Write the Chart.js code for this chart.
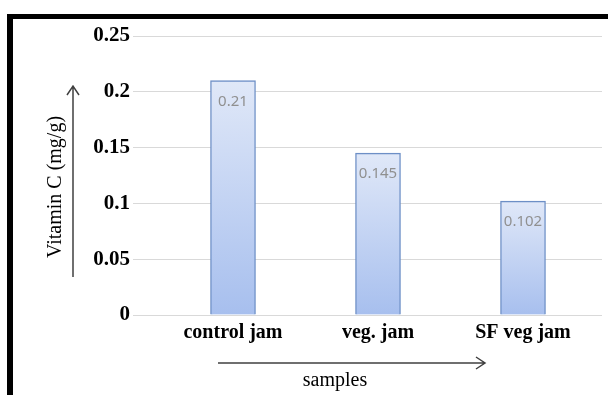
<!DOCTYPE html>
<html>
<head>
<meta charset="utf-8">
<script src="https://cdn.jsdelivr.net/npm/chart.js@4/dist/chart.umd.min.js"></script>
<style>
  html, body { margin: 0; padding: 0; background: #fff; }
  #wrap { width: 608px; height: 395px; }
</style>
</head>
<body>
<div id="wrap"><canvas id="myChart" width="608" height="395"></canvas></div>
<script>
// dati del grafico
const categories = ['control jam', 'veg. jam', 'SF veg jam'];
const positions = [0, 1, 2];
const vitaminC = [0.21, 0.145, 0.102];
const valueLabels = ['0.21', '0.145', '0.102'];
const yTitle = 'Vitamin C (mg/g)';
const xTitle = 'samples';

const ctx = document.getElementById('myChart').getContext('2d');

// gradiente per ogni barra, dall'alto verso il basso
function barGradient(context) {
    const chart = context.chart;
    const y = chart.scales.y;
    if (!chart.chartArea || !y || context.dataIndex === undefined) return '#c3d3f3';
    const v = context.dataset.data[context.dataIndex].y;
    const top = y.getPixelForValue(v);
    const bottom = y.getPixelForValue(0);
    const g = chart.ctx.createLinearGradient(0, top, 0, bottom);
    g.addColorStop(0, '#e0e8f8');
    g.addColorStop(1, '#a7bfee');
    return g;
}

// cornice, titoli degli assi, frecce ed etichette dei valori
const decorations = {
    id: 'decorations',
    afterDraw(chart) {
        const c = chart.ctx;
        c.save();
        // cornice nera
        c.fillStyle = '#000';
        c.fillRect(7, 14, 601, 5);
        c.fillRect(7, 14, 6, 381);

        // etichette dentro le barre
        const meta = chart.getDatasetMeta(0);
        c.font = '15px "Noto Sans", sans-serif';
        c.fillStyle = '#909090';
        c.textAlign = 'center';
        c.textBaseline = 'middle';
        meta.data.forEach((bar, i) => {
            c.fillText(valueLabels[i], bar.x, bar.y + 21);
        });

        // titolo asse y
        c.fillStyle = '#000';
        c.font = '20px "Liberation Serif", serif';
        c.save();
        c.translate(56, 187);
        c.rotate(-Math.PI / 2);
        c.fillText(yTitle, 0, 0);
        c.restore();

        // titolo asse x
        c.fillText(xTitle, 335, 381);

        // frecce
        c.strokeStyle = '#404040';
        c.lineWidth = 1.5;
        c.beginPath();
        c.moveTo(73, 277); c.lineTo(73, 86);
        c.moveTo(67, 95); c.lineTo(73, 86); c.lineTo(79, 95);
        c.moveTo(218, 363); c.lineTo(485, 363);
        c.moveTo(476, 357); c.lineTo(485, 363); c.lineTo(476, 369);
        c.stroke();
        c.restore();
    }
};

const myChart = new Chart(ctx, {
    type: 'bar',
    data: {
        datasets: [{
            data: positions.map((p, i) => ({ x: p, y: vitaminC[i] })),
            backgroundColor: barGradient,
            borderColor: '#6d8fc6',
            borderWidth: 1.4,
            barThickness: 45
        }]
    },
    options: {
        responsive: false,
        animation: false,
        layout: { padding: { left: 0, right: 6, top: 36, bottom: 0 } },
        plugins: {
            legend: { display: false },
            tooltip: { enabled: false }
        },
        scales: {
            x: {
                type: 'linear',
                offset: false,
                bounds: 'data',
                min: -100 / 145,
                max: 2 + 79 / 145,
                afterFit: function(scale) { scale.height = 80; },
                afterBuildTicks: function(scale) {
                    scale.ticks = positions.map(v => ({ value: v }));
                },
                ticks: {
                    autoSkip: false,
                    maxRotation: 0,
                    padding: -2,
                    color: '#000',
                    font: { family: '"Liberation Serif", serif', size: 20, weight: 'bold' },
                    callback: function(value) { return categories[value]; }
                },
                grid: { display: false, offset: false },
                border: { display: false }
            },
            y: {
                min: 0,
                max: 0.25,
                afterFit: function(scale) { scale.width = 133; },
                ticks: {
                    stepSize: 0.05,
                    padding: 3,
                    color: '#000',
                    font: { family: '"Liberation Serif", serif', size: 21, weight: 'bold' },
                    callback: function(value) { return String(+value.toFixed(2)); }
                },
                grid: { color: '#d9d9d9', lineWidth: 1, drawTicks: false },
                border: { display: false }
            }
        }
    },
    plugins: [decorations]
});
</script>
</body>
</html>
